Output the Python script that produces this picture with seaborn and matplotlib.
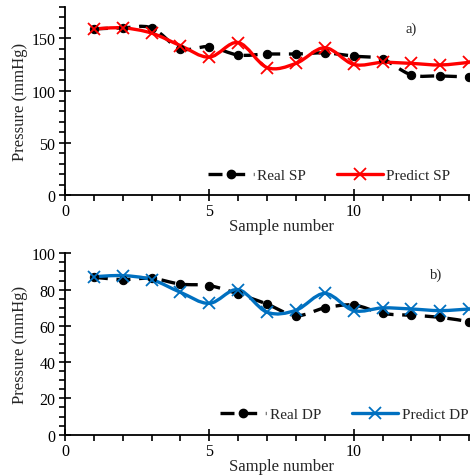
import numpy as np
import pandas as pd
import seaborn as sns
import matplotlib
matplotlib.use("Agg")
import matplotlib.pyplot as plt
from matplotlib.path import Path
from matplotlib.patches import PathPatch
from matplotlib.lines import Line2D
from matplotlib.ticker import MultipleLocator, FixedLocator

# ---- data ----
samples = [1, 2, 3, 4, 5, 6, 7, 8, 9, 10, 11, 12, 13, 14]
real_sp = [159, 160, 160, 140, 142, 134, 135, 135, 136, 133, 130, 115, 114, 113]
pred_sp = [159, 160, 155, 143, 132, 146, 122, 126, 141, 125, 127, 126, 124.5, 127]
real_dp = [86.8, 85.5, 86.2, 83, 82.2, 77.6, 72, 65.6, 69.9, 71.5, 66.9, 65.8, 64.7, 62.3]
pred_dp = [87.1, 87.7, 85.5, 78.5, 72.4, 80, 67.5, 68.6, 77.9, 68.4, 69.9, 69.3, 68.4, 69.3]
x_ticks = [0, 5, 10]

sns.set_theme(style="ticks")
plt.rcParams['font.family'] = ['Liberation Serif', 'DejaVu Serif']
FS = 11.5

RED = "#FF0000"
BLUE = "#0070C0"


def smooth_path(xs, ys):
    """Excel-style smoothed line as cubic Bezier path through the data points."""
    xs = np.asarray(xs, float)
    ys = np.asarray(ys, float)
    n = len(xs)
    verts = [(xs[0], ys[0])]
    codes = [Path.MOVETO]
    for i in range(n - 1):
        p0 = np.array([xs[max(i - 1, 0)], ys[max(i - 1, 0)]])
        p1 = np.array([xs[i], ys[i]])
        p2 = np.array([xs[i + 1], ys[i + 1]])
        p3 = np.array([xs[min(i + 2, n - 1)], ys[min(i + 2, n - 1)]])
        c1 = p1 + (p2 - p0) / 6.0
        c2 = p2 - (p3 - p1) / 6.0
        verts += [tuple(c1), tuple(c2), tuple(p2)]
        codes += [Path.CURVE4] * 3
    return Path(verts, codes)


fig = plt.figure(figsize=(4.70, 4.77), dpi=100)
ax1 = fig.add_axes([65 / 470, (477 - 196) / 477, 433 / 470, 188 / 477])
ax2 = fig.add_axes([65 / 470, (477 - 435.7) / 477, 433 / 470, 181.4 / 477])

LW = 2.4
DASH = (0, (4.2, 2.6))


def panel(ax, real, pred, color, ymax, ymaj, ymin, tag, tagxy, names, legxy):
    df = pd.DataFrame({"x": samples, "real": real, "pred": pred})
    # smoothed lines
    ax.add_patch(PathPatch(smooth_path(samples, real), fill=False, edgecolor="black",
                           lw=LW, linestyle=DASH, zorder=2, capstyle="butt"))
    ax.add_patch(PathPatch(smooth_path(samples, pred), fill=False, edgecolor=color,
                           lw=LW, zorder=3))
    # markers
    sns.lineplot(data=df, x="x", y="real", ax=ax, linestyle="", marker="o",
                 markersize=6, color="black", markeredgecolor="black", zorder=4)
    sns.lineplot(data=df, x="x", y="pred", ax=ax, linestyle="", marker="x",
                 markersize=8.5, color=color, markeredgecolor=color,
                 markeredgewidth=1.3, zorder=5)
    ax.set_xlim(0, 15)
    ax.set_ylim(0, ymax)
    ax.xaxis.set_major_locator(FixedLocator(x_ticks))
    ax.xaxis.set_minor_locator(MultipleLocator(1))
    ax.yaxis.set_major_locator(MultipleLocator(ymaj))
    ax.yaxis.set_minor_locator(MultipleLocator(ymin))
    ax.tick_params(which="major", direction="inout", length=8, width=1.2,
                   labelsize=FS, colors="black", pad=2)
    ax.tick_params(which="minor", direction="out", length=4, width=1.2, colors="black")
    ax.tick_params(axis="y", which="major", pad=3)
    for s in ["top", "right"]:
        ax.spines[s].set_visible(False)
    for s in ["left", "bottom"]:
        ax.spines[s].set_linewidth(1.3)
        ax.spines[s].set_color("black")
    ax.set_xlabel("Sample number", fontsize=FS + 0.5, labelpad=-1)
    ax.set_ylabel("Pressure (mmHg)", fontsize=FS + 0.5, labelpad=2)
    ax.text(tagxy[0], tagxy[1], tag, fontsize=FS - 1, ha="center", va="center")
    handles = [
        Line2D([], [], color="black", lw=LW, linestyle=DASH, marker="o",
               markersize=6),
        Line2D([], [], color=color, lw=LW, marker="x", markersize=8.5,
               markeredgewidth=1.3),
    ]
    ax.legend(handles, names, loc="center", bbox_to_anchor=legxy, ncol=2,
              frameon=False, fontsize=FS - 0.5, handlelength=3.0,
              handletextpad=0.25, columnspacing=2.0, borderpad=0)


panel(ax1, real_sp, pred_sp, RED, 180, 50, 10, "a)", (12.0, 160),
      ["Real SP", "Predict SP"], (0.61, 0.106))
panel(ax2, real_dp, pred_dp, BLUE, 100, 20, 5, "b)", (12.85, 88.5),
      ["Real DP", "Predict DP"], (0.645, 0.114))

fig.savefig("out.png", dpi=100)
